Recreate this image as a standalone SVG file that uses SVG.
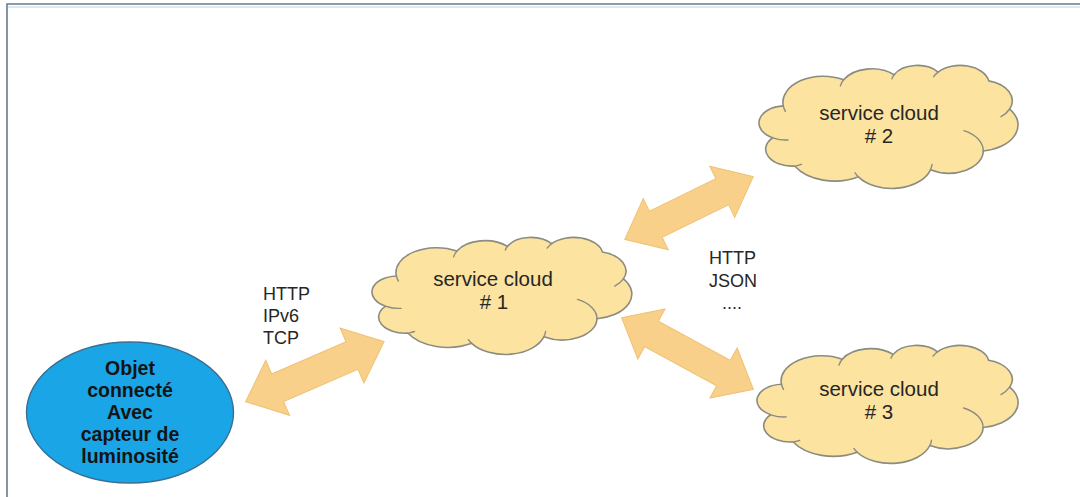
<svg xmlns="http://www.w3.org/2000/svg" xmlns:xlink="http://www.w3.org/1999/xlink" width="1080" height="497" viewBox="0 0 1080 497">
  <style>
    .frame { stroke: #6a7b90; stroke-width: 1.6; fill: none; }
    .frame-lite { stroke: #dce8f2; stroke-width: 2; fill: none; }
    .cloud { fill: #fce3a0; stroke: #8b8b80; stroke-width: 1.6; stroke-linejoin: round; }
    .crease { fill: none; stroke: #8b8b80; stroke-width: 1.4; stroke-linecap: round; }
    .conn { fill: #f8d089; stroke: #efc174; stroke-width: 1; stroke-linejoin: miter; }
    .device { fill: #19a5e6; stroke: #3b6f92; stroke-width: 1.4; }
    .lbl { font-family: "Liberation Sans", Arial, sans-serif; font-size: 20.5px; fill: #262626; text-anchor: middle; }
    .proto { font-family: "Liberation Sans", Arial, sans-serif; font-size: 18px; fill: #262626; }
    .dev { font-family: "Liberation Sans", Arial, sans-serif; font-size: 19.5px; font-weight: bold; fill: #141414; text-anchor: middle; }
  </style>
  <defs>
    <!-- cloud outline in a 260 x 120 box -->
    <path id="cloudShape" d="M 23.47 39.92
      A 40.64 25.53 0 0 1 84.28 14.45
      A 32.10 20.19 0 0 1 135.15 9.53
      A 26.27 16.51 0 0 1 179.54 6.89
      A 29.23 18.32 0 0 1 230.61 15.48
      A 32.10 20.20 0 0 1 251.67 42.94
      A 40.78 25.61 0 0 1 225.10 83.89
      A 34.82 21.85 0 0 1 171.85 102.25
      A 40.64 25.60 0 0 1 99.17 109.06
      A 46.46 29.29 0 0 1 34.98 98.51
      A 26.24 16.44 0 0 1 12.76 70.95
      A 26.15 16.51 0 0 1 23.47 39.92 Z"/>
    <!-- inner folds where the bumps meet -->
    <path id="cloudCrease" d="M 28.25 73.15 A 26.15 16.51 0 0 1 13.69 71.28
      M 41.70 96.94 A 26.24 16.44 0 0 1 36.47 98.38
      M 99.17 109.06 A 40.64 25.60 0 0 1 95.83 105.24
      M 173.45 96.94 A 40.64 25.60 0 0 1 171.85 102.25
      M 205.55 64.07 A 34.82 21.85 0 0 1 225.10 83.89
      M 251.67 42.94 A 32.10 20.20 0 0 1 242.95 50.38
      M 175.08 11.37 A 29.23 18.32 0 0 1 179.54 6.89
      M 132.99 13.39 A 26.27 16.51 0 0 1 135.15 9.53
      M 81.02 20.41 A 32.10 20.19 0 0 1 84.28 14.45
      M 25.55 45.21 A 40.64 25.53 0 0 1 23.47 39.92"/>
  </defs>

  <rect x="0" y="0" width="1080" height="497" fill="#ffffff"/>

  <!-- page frame -->
  <g id="frame">
    <path class="frame-lite" d="M 8 7 H 1080"/>
    <path class="frame" d="M 7 497 V 4 H 1080"/>
  </g>

  <!-- double-headed block arrows -->
  <g id="connectors">
    <polygon id="link-device-cloud1" class="conn" transform="translate(314.85,371.7) rotate(-23.45)"
      points="-75.5,0 -40.5,-30 -40.5,-15 40.5,-15 40.5,-30 75.5,0 40.5,30 40.5,15 -40.5,15 -40.5,30"/>
    <polygon id="link-cloud1-cloud2" class="conn" transform="translate(689,208) rotate(-26)"
      points="-71.5,0 -37,-28.5 -37,-14.5 37,-14.5 37,-28.5 71.5,0 37,28.5 37,14.5 -37,14.5 -37,28.5"/>
    <polygon id="link-cloud1-cloud3" class="conn" transform="translate(687.5,353.5) rotate(28.5)"
      points="-75,0 -41,-28.5 -41,-14.5 41,-14.5 41,-28.5 75,0 41,28.5 41,14.5 -41,14.5 -41,28.5"/>
  </g>

  <!-- protocol labels -->
  <g id="label-left">
    <text class="proto" x="263" y="300">HTTP</text>
    <text class="proto" x="263" y="322">IPv6</text>
    <text class="proto" x="263" y="344">TCP</text>
  </g>
  <g id="label-right">
    <text class="proto" x="709" y="264">HTTP</text>
    <text class="proto" x="709" y="287">JSON</text>
    <text class="proto" x="722" y="309">....</text>
  </g>

  <!-- connected device -->
  <g id="device">
    <ellipse class="device" cx="130" cy="412.5" rx="103.5" ry="70.5"/>
    <text class="dev" x="130" y="375">Objet</text>
    <text class="dev" x="130" y="397">connecté</text>
    <text class="dev" x="130" y="419">Avec</text>
    <text class="dev" x="130" y="441">capteur de</text>
    <text class="dev" x="130" y="463">luminosité</text>
  </g>

  <g id="cloud1">
    <g transform="translate(373,237) scale(0.995,0.975)">
      <use xlink:href="#cloudShape" href="#cloudShape" class="cloud"/>
      <use xlink:href="#cloudCrease" href="#cloudCrease" class="crease"/>
    </g>
    <text class="lbl" x="493" y="286">service cloud</text>
    <text class="lbl" x="494" y="309"># 1</text>
  </g>

  <g id="cloud2">
    <g transform="translate(760,65) scale(0.992,1.025)">
      <use xlink:href="#cloudShape" href="#cloudShape" class="cloud"/>
      <use xlink:href="#cloudCrease" href="#cloudCrease" class="crease"/>
    </g>
    <text class="lbl" x="879" y="120">service cloud</text>
    <text class="lbl" x="879" y="143"># 2</text>
  </g>

  <g id="cloud3">
    <g transform="translate(758,345) scale(1,0.983)">
      <use xlink:href="#cloudShape" href="#cloudShape" class="cloud"/>
      <use xlink:href="#cloudCrease" href="#cloudCrease" class="crease"/>
    </g>
    <text class="lbl" x="879" y="396">service cloud</text>
    <text class="lbl" x="879" y="419"># 3</text>
  </g>
</svg>
